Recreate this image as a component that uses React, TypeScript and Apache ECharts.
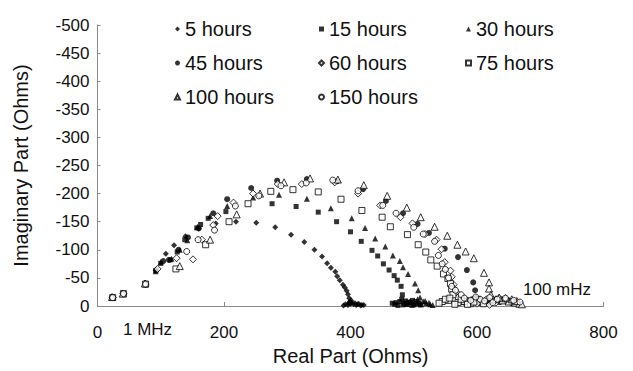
import React, { useEffect, useRef } from "react";
import * as echarts from "echarts";

// Nyquist data: [real (Ohms), imaginary (Ohms)] — imaginary values negative
const hours5: number[][] = [
  [24, -15], [41, -22], [76, -39], [92, -63], [108, -93], [121, -108], [139, -124], [160, -138],
  [187, -147], [219, -150], [251, -148], [281, -140], [306, -127], [327, -114], [343, -100],
  [355, -88], [363, -76], [369, -68], [376, -61], [379, -53], [383, -46], [388, -38], [391, -33],
  [394, -27], [396, -21], [398, -14], [399, -8], [400, -4], [396, -2], [402, -6], [405, -3],
  [409, -2], [413, -4], [418, -2], [392, -3], [389, -1], [401, -10], [397, -5], [407, -5],
  [411, -3], [416, -1], [421, -2],
];
const hours15: number[][] = [
  [24, -15], [41, -22], [76, -39], [92, -63], [100, -76], [115, -82], [126, -96], [138, -118],
  [157, -139], [163, -145], [175, -156], [203, -168], [276, -182], [314, -177], [349, -167],
  [378, -150], [400, -132], [417, -115], [434, -99], [443, -89], [452, -75], [461, -64],
  [469, -54], [474, -46], [480, -35], [482, -20], [478, -8], [485, -5], [490, -3], [495, -6],
  [500, -2], [505, -4], [470, -3], [475, -1], [510, -2], [487, -9], [481, -12], [466, -5],
  [472, -6], [483, -2], [492, -7], [498, -10], [503, -8], [508, -5], [497, -1],
];
const hours30: number[][] = [
  [24, -15], [41, -22], [76, -39], [92, -62], [100, -78], [117, -84], [130, -100], [142, -117],
  [158, -141], [178, -160], [205, -178], [246, -193], [287, -198], [331, -191], [369, -174],
  [402, -156], [423, -139], [439, -120], [455, -106], [467, -90], [478, -80], [483, -69],
  [491, -57], [502, -40], [507, -28], [510, -15], [515, -8], [520, -5], [526, -3], [530, -2],
  [500, -4], [506, -12], [512, -3], [518, -9], [524, -6], [488, -4], [494, -8],
];
const hours45: number[][] = [
  [24, -15], [41, -22], [76, -39], [93, -64], [104, -80], [113, -82], [128, -100], [143, -122],
  [160, -138], [183, -165], [205, -190], [243, -210], [284, -223], [331, -226], [379, -222],
  [420, -208], [456, -187], [483, -165], [506, -146], [524, -130], [549, -102], [570, -87],
  [584, -64], [594, -42], [597, -28], [598, -15], [600, -8], [605, -5], [612, -8], [620, -6],
  [628, -10], [636, -7], [645, -9], [655, -5], [590, -4], [580, -6], [585, -10], [592, -12],
  [603, -13], [616, -11], [624, -13], [640, -12], [650, -10], [660, -7],
];
const hours60: number[][] = [
  [24, -15], [41, -22], [76, -39], [95, -66], [125, -85], [151, -83], [165, -118], [183, -144],
  [190, -160], [215, -184], [246, -200], [285, -217], [323, -217], [375, -220], [412, -200],
  [447, -179], [479, -158], [498, -147], [518, -128], [536, -118], [544, -101], [549, -78],
  [558, -63], [560, -52], [563, -38], [567, -25], [570, -15], [575, -8], [585, -10], [595, -12],
  [605, -8], [615, -12], [625, -10], [635, -14], [645, -10], [655, -8], [665, -5], [620, -2],
  [600, -4], [630, -6],
];
const hours75: number[][] = [
  [24, -15], [41, -22], [76, -39], [124, -66], [171, -109], [208, -150], [238, -182],
  [274, -204], [309, -207], [349, -203], [385, -190], [418, -170], [450, -158], [463, -141],
  [490, -127], [507, -109], [519, -96], [527, -82], [537, -71], [547, -57], [554, -49],
  [558, -40], [560, -30], [562, -20], [555, -10], [545, -8], [540, -5], [570, -6], [580, -8],
  [590, -4], [565, -3], [550, -12], [557, -14], [575, -12], [585, -3], [595, -7], [610, -4],
];
const hours100: number[][] = [
  [23, -16], [40, -22], [75, -40], [130, -71], [178, -118], [220, -163], [257, -200],
  [295, -220], [336, -227], [380, -225], [421, -215], [458, -196], [489, -175], [511, -158],
  [533, -141], [553, -125], [569, -109], [582, -97], [595, -85], [611, -59], [619, -42],
  [619, -31], [622, -20], [630, -12], [640, -10], [650, -8], [660, -6], [667, -4], [671, -3],
  [655, -12], [645, -14], [635, -15], [663, -9],
];
const hours150: number[][] = [
  [24, -15], [41, -22], [76, -39], [141, -97], [159, -118], [185, -135], [218, -178],
  [255, -196], [290, -214], [330, -219], [372, -224], [412, -205], [451, -179], [472, -165],
  [500, -140], [515, -128], [533, -115], [539, -90], [545, -75], [550, -65], [555, -50],
  [560, -35], [575, -20], [590, -10], [605, -12], [620, -15], [632, -12], [645, -14],
  [658, -10], [668, -7], [566, -28], [580, -14], [598, -16], [612, -9], [625, -6],
];

const seriesNames = ["5 hours", "15 hours", "30 hours", "45 hours", "60 hours", "75 hours", "100 hours", "150 hours"];
const seriesData = [hours5, hours15, hours30, hours45, hours60, hours75, hours100, hours150];
const seriesSymbols = ["diamond", "rect", "triangle", "circle", "diamond", "rect", "triangle", "circle"];
const seriesFilled = [true, true, true, true, false, false, false, false];
const seriesSizes = [6, 5, 6, 6, 7, 6, 7, 6];

const xTicks = { min: 0, max: 800, interval: 200 };
const yTicks = { min: -500, max: 0, interval: 50 };

const legendColumns = [
  ["5 hours", "45 hours", "100 hours"],
  ["15 hours", "60 hours", "150 hours"],
  ["30 hours", "75 hours"],
];
const legendLefts = [169, 313, 460];

const annotations = [
  { text: "1 MHz", x: 123, y: 321 },
  { text: "100 mHz", x: 523, y: 281 },
];

export default function App() {
  const ref = useRef<HTMLDivElement>(null);
  useEffect(() => {
    if (!ref.current) return;
    const chart = echarts.init(ref.current, undefined, { renderer: "svg" });
    const font = "Liberation Sans, Arial, sans-serif";
    chart.setOption({
      animation: false,
      backgroundColor: "#ffffff",
      textStyle: { fontFamily: font },
      grid: { left: 97.5, right: 29.5, top: 25, bottom: 58, containLabel: false },
      xAxis: {
        type: "value",
        min: xTicks.min,
        max: xTicks.max,
        interval: xTicks.interval,
        name: "Real Part (Ohms)",
        nameLocation: "middle",
        nameGap: 40,
        nameTextStyle: { fontSize: 20, color: "#111", fontFamily: font },
        axisLine: { show: true, lineStyle: { color: "#8a8a8a", width: 1 } },
        axisTick: { show: true, inside: true, length: 4, lineStyle: { color: "#8a8a8a" } },
        axisLabel: { fontSize: 17, color: "#111", margin: 18, fontFamily: font },
        splitLine: { show: false },
      },
      yAxis: {
        type: "value",
        inverse: true,
        min: yTicks.min,
        max: yTicks.max,
        interval: yTicks.interval,
        name: "Imaginary Part (Ohms)",
        nameLocation: "middle",
        nameGap: 67,
        nameRotate: 90,
        nameTextStyle: { fontSize: 20, color: "#111", fontFamily: font },
        axisLine: { show: true, onZero: false, lineStyle: { color: "#8a8a8a", width: 1 } },
        axisTick: { show: true, inside: true, length: 3, lineStyle: { color: "#8a8a8a" } },
        axisLabel: { fontSize: 17, color: "#111", margin: 8, fontFamily: font },
        splitLine: { show: false },
      },
      legend: legendColumns.map((names, i) => ({
        orient: "vertical",
        left: legendLefts[i],
        top: 14,
        itemWidth: 5,
        itemHeight: 5,
        itemGap: 14,
        data: names,
        textStyle: { fontSize: 20, color: "#111", lineHeight: 20, fontFamily: font },
      })),
      graphic: annotations.map((a) => ({
        type: "text",
        left: a.x,
        top: a.y,
        style: { text: a.text, fontSize: 17, fill: "#111", fontFamily: font },
      })),
      series: seriesNames.map((name, i) => ({
        name,
        type: "scatter",
        data: seriesData[i],
        symbol: seriesSymbols[i],
        symbolSize: seriesSizes[i],
        itemStyle: seriesFilled[i]
          ? { color: "#000000" }
          : { color: "#ffffff", borderColor: "#000000", borderWidth: 1 },
      })),
    });
    return () => chart.dispose();
  }, []);
  return (
    <div
      ref={ref}
      style={{ position: "fixed", left: 0, top: 0, width: 633, height: 371 }}
    />
  );
}
